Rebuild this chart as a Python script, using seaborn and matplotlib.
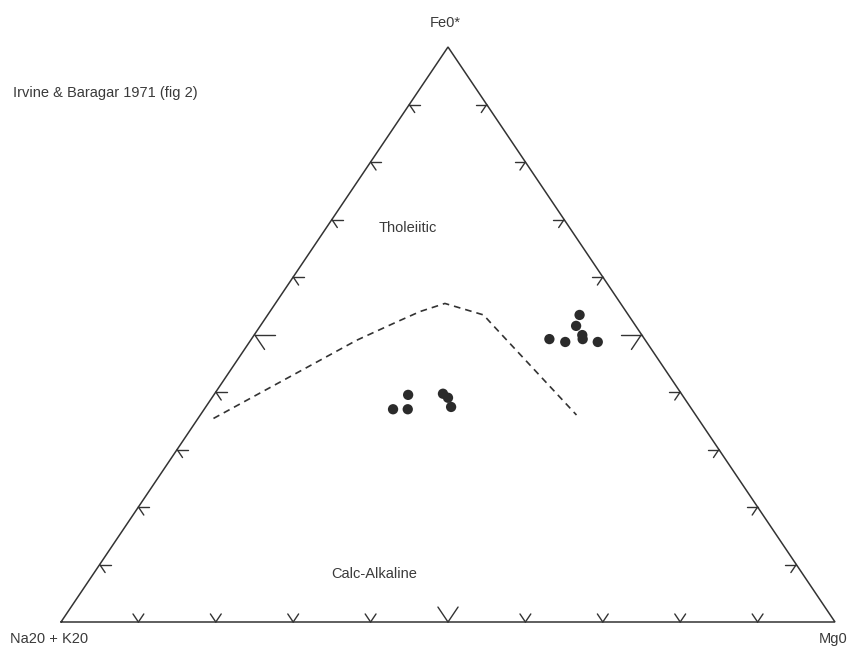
#! /usr/bin/env python3
import numpy as np
import pandas as pd
import seaborn as sns
import matplotlib
matplotlib.use("Agg")
import matplotlib.pyplot as plt

# output
OUTPUT_FILE = "out.png"
DPI = 100

# apex labels (as printed on the original)
LABEL_A = "Na20 + K20"
LABEL_F = "Fe0*"
LABEL_M = "Mg0"
TITLE = "Irvine & Baragar 1971 (fig 2)"

# Irvine & Baragar tholeiitic / calc-alkaline boundary, wt% (A, F, M)
BOUNDARY_A = [62.6, 37.3, 30.5, 26.6, 22.7, 18.7, 18.5, 15.4]
BOUNDARY_F = [35.4, 49.0, 52.2, 54.0, 55.4, 53.4, 52.2, 36.0]
BOUNDARY_M = [2.0, 13.7, 17.3, 19.4, 21.9, 27.9, 29.3, 48.6]

# sample analyses, wt% (A, F, M)
SAMPLE_A = [38.6, 36.7, 35.4, 30.8, 30.5, 30.9,
            12.3, 10.5, 7.7, 6.3, 7.7, 8.0, 6.3]
SAMPLE_F = [37.0, 37.0, 39.5, 39.7, 39.0, 37.4,
            49.2, 48.7, 51.5, 53.4, 49.9, 49.2, 48.7]
SAMPLE_M = [24.4, 26.3, 25.1, 29.5, 30.5, 31.7,
            38.5, 40.8, 40.8, 40.3, 42.4, 42.8, 45.0]

# tick marks along each edge every 10 %
TICK_STEPS = [10, 20, 30, 40, 50, 60, 70, 80, 90]

H = np.sqrt(3) / 2
INK = "#333333"


def to_xy(a, f, m):
    a, f, m = np.asarray(a, float), np.asarray(f, float), np.asarray(m, float)
    tot = a + f + m
    f, m = f / tot, m / tot
    return m + f / 2, f * H


def tick_arms(frac, edge, big):
    # vertex on the edge plus two arms pointing into the triangle
    L = 0.026 if big else 0.014
    if edge == "bottom":
        x0, y0 = to_xy(1 - frac, 0, frac)
        dirs = [(-0.5, H), (0.5, H)]
    elif edge == "left":
        x0, y0 = to_xy(1 - frac, frac, 0)
        dirs = [(1, 0), (0.5, -H)]
    else:
        x0, y0 = to_xy(0, frac, 1 - frac)
        dirs = [(-1, 0), (-0.5, -H)]
    return [([x0, x0 + L * dx], [y0, y0 + L * dy]) for dx, dy in dirs]


def main():
    sns.set_theme(style="white")
    plt.rcParams["font.family"] = ["Liberation Sans", "DejaVu Sans"]

    fig = plt.figure(figsize=(8.52, 6.48), dpi=DPI)
    ax = fig.add_axes([61 / 852, 26 / 648, 774 / 852, 575 / 648])
    ax.set_xlim(0, 1)
    ax.set_ylim(0, H)
    ax.set_axis_off()

    # triangle outline
    cx, cy = to_xy([100, 0, 0, 100], [0, 100, 0, 0], [0, 0, 100, 0])
    ax.plot(cx, cy, color=INK, lw=1.1, clip_on=False, solid_joinstyle="miter")

    # edge ticks
    for step in TICK_STEPS:
        for edge in ["bottom", "left", "right"]:
            for xs, ys in tick_arms(step / 100, edge, step == 50):
                ax.plot(xs, ys, color=INK, lw=1.0, clip_on=False)

    # boundary curve
    bx, by = to_xy(BOUNDARY_A, BOUNDARY_F, BOUNDARY_M)
    df_b = pd.DataFrame({"x": bx, "y": by, "order": range(len(bx))})
    sns.lineplot(data=df_b, x="x", y="y", sort=False, estimator=None,
                 color=INK, lw=1.2, dashes=False, ax=ax)
    ax.lines[-1].set_dashes((4, 3))

    # samples
    sx, sy = to_xy(SAMPLE_A, SAMPLE_F, SAMPLE_M)
    df_s = pd.DataFrame({"x": sx, "y": sy})
    sns.scatterplot(data=df_s, x="x", y="y", s=55, color="#2b2b2b",
                    edgecolor="none", ax=ax, zorder=5)
    ax.set_axis_off()

    # labels
    fs = 10.5
    tc = "#3a3a3a"
    ax.annotate(LABEL_F, xy=to_xy(0, 100, 0), xytext=(-3, 24),
                textcoords="offset pixels", ha="center", va="center",
                fontsize=fs, color=tc, annotation_clip=False)
    ax.annotate(LABEL_A, xy=to_xy(100, 0, 0), xytext=(-51, -17),
                textcoords="offset pixels", ha="left", va="center",
                fontsize=fs, color=tc, annotation_clip=False)
    ax.annotate(LABEL_M, xy=to_xy(0, 0, 100), xytext=(-16, -17),
                textcoords="offset pixels", ha="left", va="center",
                fontsize=fs, color=tc, annotation_clip=False)
    ax.text(0.448, 0.593, "Tholeiitic", ha="center", va="center",
            fontsize=fs, color=tc)
    ax.text(0.404, 0.072, "Calc-Alkaline", ha="center", va="center",
            fontsize=fs, color=tc)
    fig.text(13 / 852, 1 - 93.5 / 648, TITLE, ha="left", va="center",
             fontsize=fs, color=tc)

    fig.savefig(OUTPUT_FILE, dpi=DPI, facecolor="white")


if __name__ == "__main__":
    main()
